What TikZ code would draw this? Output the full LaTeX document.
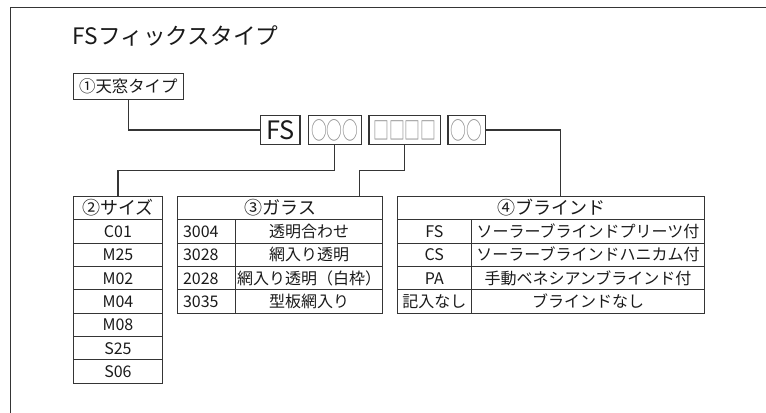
\documentclass[tikz,border=0pt]{standalone}
\usepackage{fontspec}
\setmainfont{Noto Sans CJK JP}
\newfontfamily\markfont[FakeStretch=0.66]{Noto Sans CJK JP}
\usepackage{xcolor}
\usetikzlibrary{positioning}
\definecolor{LineGray}{HTML}{353535}
\definecolor{InkBlack}{HTML}{1A1A1A}

\tikzset{
  frame/.style={draw=LineGray, line width=1.1pt},
  link/.style={draw=LineGray, line width=0.8pt},
  codebox/.style={draw=LineGray, line width=0.8pt, inner sep=0pt, outer sep=0pt, minimum height=21.5pt, text=InkBlack},
  markbox/.style={codebox, text opacity=0.5, text height=14.5pt, text depth=0pt, font=\markfont\fontsize{18}{20}\selectfont},
  cell/.style={draw=LineGray, line width=0.8pt, inner sep=0pt, outer sep=0pt, minimum height=17.5pt,
    text height=9pt, text depth=0pt, text=InkBlack, font=\fontsize{12}{14}\selectfont},
  headcell/.style={cell, font=\fontsize{13.5}{16}\selectfont},
  codecell/.style={cell, minimum width=43.5pt, inner xsep=4pt, text width=35.5pt, align=left},
}

\begin{document}
\begin{tikzpicture}[x=0.75pt, y=-0.75pt]
    \useasboundingbox (0,0) rectangle (766,413);
    \draw[frame] (766,7.3) -- (10.7,7.3) -- (10.7,413);

    \node[anchor=base west, inner sep=0pt, text=InkBlack, font=\fontsize{17}{20}\selectfont] (title) at (72.5,44.3) {FSフィックスタイプ};
    \node[codebox, minimum width=82.5pt, minimum height=20pt, font=\fontsize{12.3}{14}\selectfont] (t1) at (128.3,86.5) {①天窓タイプ};

    % code boxes
    \node[codebox, minimum width=29.5pt, font=\fontsize{19}{22}\selectfont, text height=13.9pt, text depth=0pt] (fs) at (280.3,130) {FS};
    \node[markbox, minimum width=39.75pt] (c2) at (334.8,130) {○○○};
    \node[markbox, minimum width=53.8pt] (c3) at (404.85,130) {□□□□};
    \node[markbox, minimum width=28pt] (c4) at (466.65,130) {○○};

    % size table
    \node[headcell, minimum width=67pt, anchor=north west] (s0) at (73.3,196.5) {②サイズ};
    \node[cell, minimum width=67pt, below=0pt of s0] (s1) {C01};
    \node[cell, minimum width=67pt, below=0pt of s1] (s2) {M25};
    \node[cell, minimum width=67pt, below=0pt of s2] (s3) {M02};
    \node[cell, minimum width=67pt, below=0pt of s3] (s4) {M04};
    \node[cell, minimum width=67pt, below=0pt of s4] (s5) {M08};
    \node[cell, minimum width=67pt, below=0pt of s5] (s6) {S25};
    \node[cell, minimum width=67pt, below=0pt of s6] (s7) {S06};

    % glass table
    \node[headcell, minimum width=153.75pt, anchor=north west] (g0) at (177.7,196.5) {③ガラス};
    \node[codecell, below right=0pt of g0.south west] (g1a) {3004};
    \node[cell, minimum width=110.25pt, right=0pt of g1a] (g1b) {透明合わせ};
    \node[codecell, below=0pt of g1a] (g2a) {3028};
    \node[cell, minimum width=110.25pt, right=0pt of g2a] (g2b) {網入り透明};
    \node[codecell, below=0pt of g2a] (g3a) {2028};
    \node[cell, minimum width=110.25pt, right=0pt of g3a] (g3b) {網入り透明（白枠）};
    \node[codecell, below=0pt of g3a] (g4a) {3035};
    \node[cell, minimum width=110.25pt, right=0pt of g4a] (g4b) {型板網入り};

    % blind table
    \node[headcell, minimum width=230.55pt, anchor=north west] (b0) at (397.3,196.5) {④ブラインド};
    \node[cell, minimum width=55.5pt, below right=0pt of b0.south west] (b1a) {FS};
    \node[cell, minimum width=175.05pt, right=0pt of b1a] (b1b) {ソーラーブラインドプリーツ付};
    \node[cell, minimum width=55.5pt, below=0pt of b1a] (b2a) {CS};
    \node[cell, minimum width=175.05pt, right=0pt of b2a] (b2b) {ソーラーブラインドハニカム付};
    \node[cell, minimum width=55.5pt, below=0pt of b2a] (b3a) {PA};
    \node[cell, minimum width=175.05pt, right=0pt of b3a] (b3b) {手動ベネシアンブラインド付};
    \node[cell, minimum width=55.5pt, below=0pt of b3a] (b4a) {記入なし};
    \node[cell, minimum width=175.05pt, right=0pt of b4a] (b4b) {ブラインドなし};

    % connectors
    \coordinate (gin) at (359.3,196.5);
    \coordinate (bin) at (560.3,196.5);
    \draw[link] (t1.south) |- (fs.west);
    \draw[link] (c2.south) -- ++(0,26) -| (s0.north);
    \draw[link] (c3.south) -- ++(0,26) -| (gin);
    \draw[link] (c4.east) -| (bin);
\end{tikzpicture}
\end{document}
